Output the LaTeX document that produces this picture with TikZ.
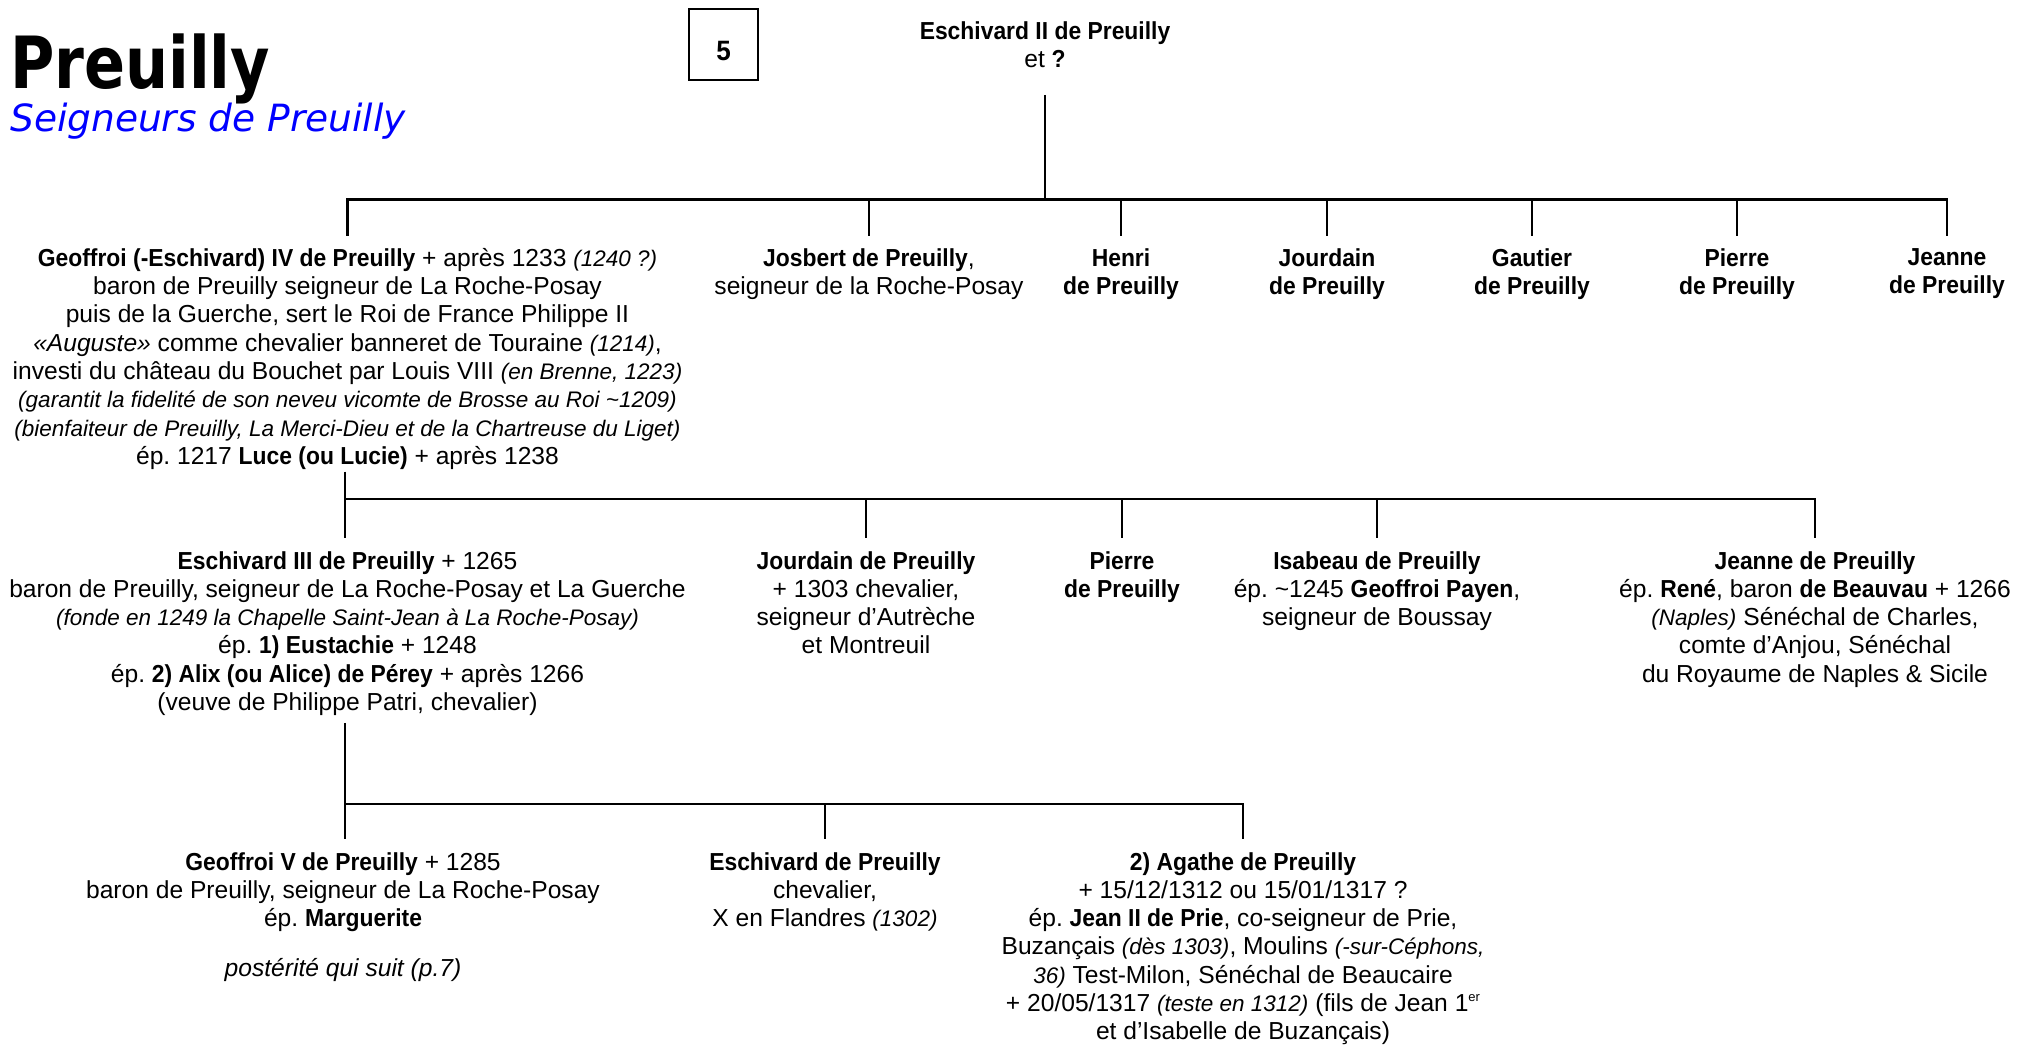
\documentclass[tikz,border=0pt]{standalone}
\usepackage{fontspec}
\setmainfont{Liberation Sans}[BoldFeatures={FakeStretch=0.93}]
\newfontfamily\titlefont{DejaVu Sans}[FakeStretch=0.84]
\newfontfamily\subtitlefont{DejaVu Sans}
\usetikzlibrary{positioning}
\frenchspacing

\newcommand\bodyfont{\fontsize{24.6}{28.3}\selectfont}
\newcommand\petit{\fontsize{22.5}{28.3}\selectfont\itshape}
\newcommand\supr[1]{\raisebox{0.42em}{\fontsize{13}{13}\selectfont #1}}

\tikzset{
  person/.style={align=center, inner sep=0pt, anchor=north, font=\bodyfont},
  link/.style={line width=2.5pt},
}

\begin{document}
\begin{tikzpicture}[x=1pt, y=-1pt]
  \useasboundingbox (0,0) rectangle (2018,1045);
  % heading
  \node[anchor=base west, inner sep=0pt, font=\titlefont\bfseries\fontsize{72}{80}\selectfont]
    (title) at (10,88) {Preuilly};
  \node[anchor=base west, inner sep=0pt, text=blue, font=\subtitlefont\itshape\fontsize{37.5}{44}\selectfont]
    (subtitle) at (10,131) {Seigneurs de Preuilly};
  \node[draw, line width=1.2pt, minimum width=69pt, minimum height=71pt, inner sep=0pt,
    text height=32pt, text depth=0pt, font=\bfseries\fontsize{28}{30}\selectfont]
    (page) at (723.5,44.5) {5};

  % parents
  \node[person] (couple) at (1045,21) {\textbf{Eschivard II de Preuilly}\\ et \textbf{?}};
  \coordinate (bar1) at (1045,199.5);
  \draw[link] ([yshift=-27pt]couple.south) -- (bar1);

  % first generation (top at 248)
  \node[person] (geoffroi) at (347.5,248) {%
    \textbf{Geoffroi (-Eschivard) IV de Preuilly} + après 1233 {\petit (1240 ?)}\\
    baron de Preuilly seigneur de La Roche-Posay\\
    puis de la Guerche, sert le Roi de France Philippe II\\
    \textit{«Auguste»} comme chevalier banneret de Touraine {\petit (1214)},\\
    investi du château du Bouchet par Louis VIII {\petit (en Brenne, 1223)}\\
    {\petit (garantit la fidelité de son neveu vicomte de Brosse au Roi \textasciitilde1209)}\\
    {\petit (bienfaiteur de Preuilly, La Merci-Dieu et de la Chartreuse du Liget)}\\
    ép. 1217 \textbf{Luce (ou Lucie)} + après 1238};
  \node[person] (josbert) at (869,248) {\textbf{Josbert de Preuilly},\\ seigneur de la Roche-Posay};
  \foreach \n/\x/\first in {henri/1121/Henri, jourdainA/1327/Jourdain, gautier/1532/Gautier,
      pierreA/1737/Pierre, jeanneA/1947/Jeanne} {
    \node[person] (\n) at (\x,248) {\textbf{\first}\\ \textbf{de Preuilly}};
  }
  \draw[link] ([yshift=12.5pt]geoffroi.north) -- (geoffroi.north |- bar1)
    -- (jeanneA.north |- bar1) -- ([yshift=12.5pt]jeanneA.north);
  \foreach \n in {josbert, henri, jourdainA, gautier, pierreA}
    \draw[link] (\n.north |- bar1) -- ([yshift=12.5pt]\n.north);

  % second generation (top at 551)
  \coordinate (bar2) at (345,499);
  \draw[link] ([yshift=-2pt]geoffroi.south -| bar2) -- (bar2);
  \node[person] (eschivard) at (347.5,551) {%
    \textbf{Eschivard III de Preuilly} + 1265\\
    baron de Preuilly, seigneur de La Roche-Posay et La Guerche\\
    {\petit (fonde en 1249 la Chapelle Saint-Jean à La Roche-Posay)}\\
    ép. \textbf{1) Eustachie} + 1248\\
    ép. \textbf{2) Alix (ou Alice) de Pérey} + après 1266\\
    (veuve de Philippe Patri, chevalier)};
  \node[person] (jourdainB) at (866,551) {\textbf{Jourdain de Preuilly}\\ + 1303 chevalier,\\
    seigneur d’Autrèche\\ et Montreuil};
  \node[person] (pierreB) at (1122,551) {\textbf{Pierre}\\ \textbf{de Preuilly}};
  \node[person] (isabeau) at (1377,551) {\textbf{Isabeau de Preuilly}\\
    ép. \textasciitilde1245 \textbf{Geoffroi Payen},\\ seigneur de Boussay};
  \node[person] (jeanneB) at (1815,551) {\textbf{Jeanne de Preuilly}\\
    ép. \textbf{René}, baron \textbf{de Beauvau} + 1266\\
    {\petit (Naples)} Sénéchal de Charles,\\ comte d’Anjou, Sénéchal\\
    du Royaume de Naples \& Sicile};
  \draw[link] (bar2) -- ([yshift=13pt]eschivard.north -| bar2);
  \draw[link] (bar2) -- (jeanneB.north |- bar2) -- ([yshift=13pt]jeanneB.north);
  \foreach \n in {jourdainB, pierreB, isabeau}
    \draw[link] (\n.north |- bar2) -- ([yshift=13pt]\n.north);

  % third generation (top at 852)
  \coordinate (bar3) at (345,804);
  \draw[link] ([yshift=-7pt]eschivard.south -| bar3) -- (bar3);
  \node[person] (geoffroiV) at (343,852) {\textbf{Geoffroi V de Preuilly} + 1285\\
    baron de Preuilly, seigneur de La Roche-Posay\\ ép. \textbf{Marguerite}};
  \node[person, below=26pt of geoffroiV, font=\bodyfont\itshape] (suite) {postérité qui suit (p.7)};
  \node[person] (eschivardB) at (825,852) {\textbf{Eschivard de Preuilly}\\ chevalier,\\
    X en Flandres {\petit (1302)}};
  \node[person] (agathe) at (1243,852) {\textbf{2) Agathe de Preuilly}\\
    + 15/12/1312 ou 15/01/1317 ?\\
    ép. \textbf{Jean II de Prie}, co-seigneur de Prie,\\
    Buzançais {\petit (dès 1303)}, Moulins {\petit (-sur-Céphons,}\\
    {\petit 36)} Test-Milon, Sénéchal de Beaucaire\\
    + 20/05/1317 {\petit (teste en 1312)} (fils de Jean 1\supr{er}\\
    et d’Isabelle de Buzançais)};
  \draw[link] (bar3) -- ([yshift=13pt]geoffroiV.north -| bar3);
  \draw[link] (bar3) -- (agathe.north |- bar3) -- ([yshift=13pt]agathe.north);
  \draw[link] (eschivardB.north |- bar3) -- ([yshift=13pt]eschivardB.north);
\end{tikzpicture}
\end{document}
